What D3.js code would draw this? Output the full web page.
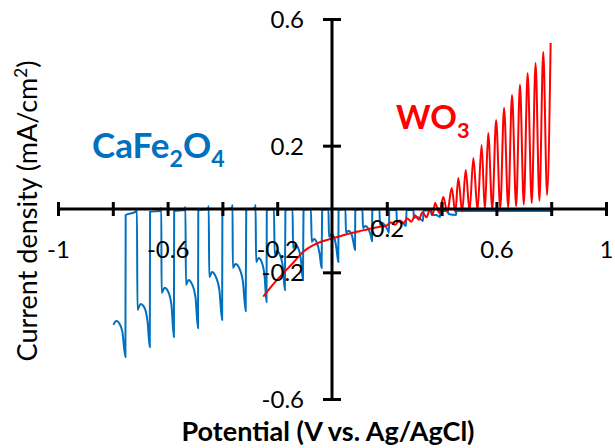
<!DOCTYPE html>
<html lang="en">
<head>
    <meta charset="UTF-8">
    <title>Chopped LSV</title>
    <script src="https://d3js.org/d3.v7.min.js"></script>
</head>
<body>

<style>
    body { margin: 0; background: #fff; }
    svg text { font-family: Lato, "Open Sans", sans-serif; fill: #000; }
    .axis path, .axis line { stroke: #000; stroke-width: 3; fill: none; }
</style>

<script type="text/javascript">

    // axis ticks and labels
    var xTicks = [-1, -0.8, -0.6, -0.4, -0.2, 0.2, 0.4, 0.6, 0.8, 1];
    var xLabels = [-1, -0.6, -0.2, 0.2, 0.6, 1];
    var yTicks = [-0.6, -0.2, 0.2, 0.6];
    var yLabels = [-0.6, -0.2, 0.2, 0.6];

    // CaFe2O4 chopped light trace (V, mA/cm2)
    var caFeV = [-0.798, -0.787, -0.777, -0.765, -0.754, -0.753, -0.717, -0.712,
        -0.710, -0.699, -0.686, -0.673, -0.665, -0.664, -0.628, -0.623,
        -0.622, -0.611, -0.599, -0.586, -0.577, -0.576, -0.538, -0.535,
        -0.533, -0.524, -0.511, -0.498, -0.489, -0.488, -0.453, -0.450,
        -0.448, -0.438, -0.425, -0.411, -0.401, -0.400, -0.365, -0.363,
        -0.362, -0.352, -0.339, -0.325, -0.315, -0.313, -0.281, -0.279,
        -0.277, -0.268, -0.257, -0.246, -0.239, -0.238, -0.212,
        -0.209, -0.201, -0.190, -0.179, -0.172, -0.170, -0.144,
        -0.142, -0.133, -0.122, -0.113, -0.106, -0.104, -0.077,
        -0.074, -0.066, -0.055, -0.045, -0.038, -0.036, -0.013,
        -0.011, -0.002, 0.009, 0.016, 0.023, 0.024, 0.049,
        0.051, 0.060, 0.071, 0.078, 0.084, 0.085, 0.111,
        0.113, 0.122, 0.133, 0.141, 0.146, 0.147, 0.173,
        0.175, 0.184, 0.195, 0.203, 0.208, 0.209, 0.235,
        0.237, 0.248, 0.259, 0.270, 0.272, 0.297,
        0.299, 0.310, 0.321, 0.332, 0.334, 0.361,
        0.363, 0.380, 0.394, 0.396, 0.423,
        0.425, 0.453, 0.454, 0.800];
    var caFeJ = [-0.366, -0.354, -0.360, -0.388, -0.467, -0.019, -0.009, 0.000,
        -0.319, -0.300, -0.309, -0.357, -0.436, -0.009, -0.006, 0.003,
        -0.265, -0.249, -0.259, -0.303, -0.404, -0.006, -0.003, 0.006,
        -0.240, -0.224, -0.237, -0.281, -0.376, -0.003, 0.000, 0.009,
        -0.215, -0.199, -0.212, -0.256, -0.350, -0.003, 0.003, 0.013,
        -0.186, -0.174, -0.186, -0.230, -0.322, -0.003, 0.003, 0.013,
        -0.167, -0.155, -0.167, -0.212, -0.294, -0.003, 0.000,
        -0.145, -0.133, -0.145, -0.186, -0.256, -0.003, 0.000,
        -0.123, -0.114, -0.126, -0.164, -0.224, -0.003, 0.000,
        -0.104, -0.095, -0.107, -0.142, -0.186, -0.003, 0.000,
        -0.088, -0.079, -0.092, -0.123, -0.167, -0.003, 0.000,
        -0.076, -0.069, -0.079, -0.104, -0.129, -0.003, 0.000,
        -0.060, -0.054, -0.063, -0.082, -0.101, -0.003, 0.000,
        -0.051, -0.044, -0.054, -0.066, -0.076, -0.003, -0.002,
        -0.041, -0.036, -0.043, -0.054, -0.003, -0.003,
        -0.028, -0.025, -0.030, -0.038, -0.005, -0.005,
        -0.019, -0.019, -0.025, -0.006, -0.006,
        -0.016, -0.019, -0.006, -0.006];

    // WO3 chopped light trace (V, mA/cm2)
    var wo3V = [-0.251, -0.215, -0.178, -0.140, -0.105, -0.070, -0.035, 0.000,
        0.033, 0.066, 0.100, 0.135, 0.170, 0.200,
        0.215, 0.230, 0.245, 0.260, 0.275, 0.290, 0.303, 0.317, 0.330, 0.345, 0.358, 0.368,
        0.376, 0.392, 0.406, 0.421, 0.437, 0.450, 0.461, 0.475, 0.488, 0.502,
        0.516, 0.531, 0.546, 0.558, 0.570, 0.585, 0.599, 0.614, 0.628, 0.643,
        0.657, 0.672, 0.686, 0.700, 0.714, 0.729, 0.743, 0.757, 0.771, 0.785, 0.798];
    var wo3J = [-0.277, -0.238, -0.203, -0.168, -0.135, -0.115, -0.102, -0.093,
        -0.085, -0.077, -0.070, -0.063, -0.057, -0.052,
        -0.043, -0.050, -0.037, -0.045, -0.030, -0.040, -0.020, -0.034, -0.010, -0.026, 0.000, -0.018,
        0.019, -0.012, 0.038, -0.010, 0.066, -0.010, 0.098, -0.008, 0.123, -0.006,
        0.161, -0.005, 0.202, -0.003, 0.240, 0.000, 0.281, 0.002, 0.319, 0.005,
        0.360, 0.009, 0.392, 0.014, 0.429, 0.019, 0.461, 0.026, 0.496, 0.044, 0.524];

    var width = 615, height = 448;

    var svg = d3.select("body").append("svg")
            .attr("width", width)
            .attr("height", height);

    var xScale = d3.scaleLinear().domain([-1, 1]).range([58, 606]);
    var yScale = d3.scaleLinear().domain([-0.6, 0.6]).range([399, 19]);

    var fmt = function(d) { return String(+d.toFixed(1)); };

    // traces
    var line = d3.line()
            .x(function(d){ return xScale(d[0]); })
            .y(function(d){ return yScale(d[1]); })
            .curve(d3.curveMonotoneX);

    var caFe = caFeV.map(function(v, i){ return [v, caFeJ[i]]; });
    var wo3 = wo3V.map(function(v, i){ return [v, wo3J[i]]; });

    svg.append("path")
            .datum(caFe)
            .attr("d", line)
            .style("fill", "none")
            .style("stroke", "#0070C0")
            .style("stroke-width", 2);

    svg.append("path")
            .datum(wo3)
            .attr("d", line)
            .style("fill", "none")
            .style("stroke", "#FF0000")
            .style("stroke-width", 2);

    // x axis through y = 0
    var xAxis = d3.axisBottom(xScale)
            .tickValues(xTicks)
            .tickSize(7)
            .tickFormat(function(d){ return xLabels.indexOf(d) >= 0 ? fmt(d) : ""; });

    var gx = svg.append("g")
            .attr("class", "x axis")
            .attr("transform", "translate(0," + yScale(0) + ")")
            .call(xAxis);
    gx.selectAll(".tick line").attr("y1", -7).attr("y2", 7);
    gx.select(".domain").attr("d", "M" + xScale(-1) + ",0H" + xScale(1));
    gx.selectAll(".tick text")
            .style("font-size", "24px")
            .attr("y", function(d){ return d === 0.2 ? 11 : 32; })
            .attr("dy", "0.71em");

    // y axis through x = 0
    var yAxis = d3.axisLeft(yScale)
            .tickValues(yTicks)
            .tickSize(9)
            .tickFormat(function(d){ return yLabels.indexOf(d) >= 0 ? fmt(d) : ""; });

    var gy = svg.append("g")
            .attr("class", "y axis")
            .attr("transform", "translate(" + xScale(0) + ",0)")
            .call(yAxis);
    gy.selectAll(".tick line").attr("x1", -9).attr("x2", 9);
    gy.select(".domain").attr("d", "M0," + yScale(0.6) + "V" + yScale(-0.6));
    gy.selectAll(".tick text")
            .style("font-size", "24px")
            .attr("x", -28)
            .attr("dy", "0.36em");

    // axis titles
    svg.append("text")
            .attr("x", 328)
            .attr("y", 441)
            .attr("text-anchor", "middle")
            .style("font-size", "27px")
            .style("font-weight", "bold")
            .text("Potential (V vs. Ag/AgCl)");

    var yt = svg.append("text")
            .attr("transform", "translate(37,211) rotate(-90)")
            .attr("text-anchor", "middle")
            .style("font-size", "27px");
    yt.append("tspan").text("Current density (mA/cm");
    yt.append("tspan").attr("dy", -10).style("font-size", "17px").text("2");
    yt.append("tspan").attr("dy", 10).text(")");

    // material labels
    function formula(x, y, parts, color, size) {
        var t = svg.append("text")
                .attr("x", x)
                .attr("y", y)
                .style("font-size", size + "px")
                .style("font-weight", "bold")
                .style("fill", color);
        var shift = 0;
        parts.forEach(function(p){
            var sub = /^[0-9]$/.test(p);
            var dy = sub ? 9 - shift : -shift;
            shift = sub ? 9 : 0;
            t.append("tspan")
                    .attr("dy", dy)
                    .style("font-size", (sub ? size * 0.66 : size) + "px")
                    .style("fill", color)
                    .text(p);
        });
    }

    formula(92, 158, ["CaFe", "2", "O", "4"], "#0070C0", 35);
    formula(396, 129, ["WO", "3"], "#FF0000", 33);

</script>

</body>
</html>
